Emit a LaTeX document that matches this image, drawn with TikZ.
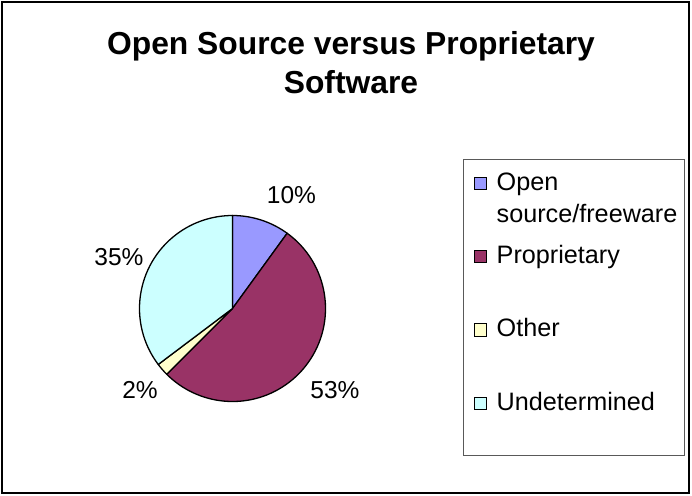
\documentclass[tikz,border=0pt]{standalone}
\usepackage{fontspec}
\setmainfont{Liberation Sans}
\usepackage{tikz}
\usetikzlibrary{positioning}
\definecolor{openc}{HTML}{9999FF}
\definecolor{propc}{HTML}{993366}
\definecolor{otherc}{HTML}{FFFFCC}
\definecolor{undetc}{HTML}{CCFFFF}
\tikzset{
  slice/.style={draw=black, line width=1.3pt, line join=round},
  pct/.style={anchor=base, inner sep=0pt, font=\fontsize{24.5}{29}\selectfont},
  legkey/.style={draw=black, line width=1pt, minimum size=12.5pt, inner sep=0pt},
  legtext/.style={anchor=base west, inner sep=0pt, align=left, font=\fontsize{25.2}{32}\selectfont}
}

\begin{document}
\begin{tikzpicture}[x=1pt, y=-1pt]
\useasboundingbox (0,0) rectangle (692,495);

% Outer frame
\draw[line width=1.5pt] (2,2) rectangle (689,493);

% Title
\node[anchor=base, inner sep=0pt, font=\bfseries\fontsize{31.8}{37}\selectfont] (title) at (351,55) {Open Source versus Proprietary};
\node[anchor=base, inner sep=0pt, font=\bfseries\fontsize{31.8}{37}\selectfont] (title2) at (351,93) {Software};

% Pie
\coordinate (pc) at (232.5,308.5);
\filldraw[slice, fill=openc] (pc) -- ++(-90:93) arc[start angle=-90, end angle=-54, radius=93] -- cycle;
\filldraw[slice, fill=propc] (pc) -- ++(-54:93) arc[start angle=-54, end angle=135, radius=93] -- cycle;
\filldraw[slice, fill=otherc] (pc) -- ++(135:93) arc[start angle=135, end angle=143, radius=93] -- cycle;
\filldraw[slice, fill=undetc] (pc) -- ++(143:93) arc[start angle=143, end angle=270, radius=93] -- cycle;

% Percent labels
\node[pct] (popen) at (291.5,203) {10\%};
\node[pct] (pprop) at (335,398) {53\%};
\node[pct] (pother) at (140,398) {2\%};
\node[pct] (pundet) at (119,265) {35\%};

% Legend
\draw[gray!70!black, line width=1pt] (463,159) rectangle (684,455);
\node[legkey, fill=openc] (kopen) at (480.5,183.5) {};
\node[legtext] (lopen) at (496.5,222) {Open\\source/freeware};
\node[legkey, fill=propc] (kprop) at (480.5,256.5) {};
\node[legtext] (lprop) at (496.5,263) {Proprietary};
\node[legkey, fill=otherc] (kother) at (480.5,330) {};
\node[legtext] (lother) at (496.5,336.5) {Other};
\node[legkey, fill=undetc] (kundet) at (480.5,403.5) {};
\node[legtext] (lundet) at (496.5,410) {Undetermined};

\end{tikzpicture}
\end{document}
